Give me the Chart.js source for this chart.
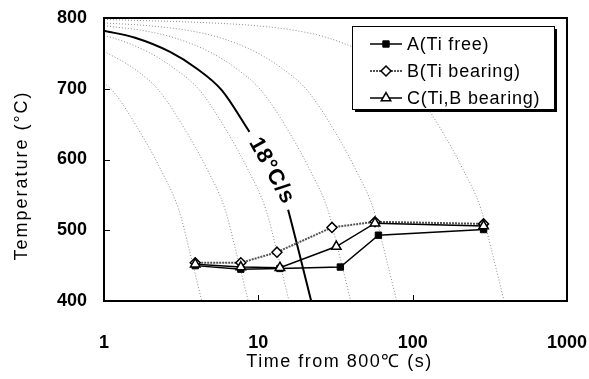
<!DOCTYPE html>
<html>
<head>
<meta charset="utf-8">
<script src="https://cdn.jsdelivr.net/npm/chart.js@4.4.0/dist/chart.umd.min.js"></script>
<style>
  html, body { margin: 0; padding: 0; background: #fff; }
  #wrap { width: 589px; height: 379px; }
</style>
</head>
<body>
<div id="wrap"><canvas id="cctChart" width="589" height="379"></canvas></div>
<script>
// measured transformation points (time from 800C in s, temperature in C)
const timeA = [3.9, 7.7, 13.8, 34, 60, 288];
const tempA = [450, 445, 446, 448, 493, 501];
const timeB = [3.9, 7.7, 13.2, 30, 57, 288];
const tempB = [454, 454, 469, 504, 512, 509];
const timeC = [3.9, 7.7, 13.8, 32, 57, 288];
const tempC = [452, 448, 447, 477, 510, 506];

// background cooling curves (dotted)
const coolTime1 = [1, 1.13, 1.71, 2.34, 3.05, 3.59, 4.3];
const coolTemp1 = [708, 698, 639, 585, 529, 470, 400];
const coolTime2 = [1, 1.55, 2.26, 3.42, 4.69, 6.1, 7.17, 8.6];
const coolTemp2 = [753, 729, 698, 639, 585, 529, 470, 400];
const coolTime3 = [1, 1.14, 1.93, 2.84, 4.16, 6.29, 8.6, 11.2, 13.2, 15.8];
const coolTemp3 = [775, 772, 752, 729, 698, 639, 585, 529, 470, 400];
const coolTime4 = [1, 1.81, 2.86, 4.84, 7.15, 10.4, 15.8, 21.6, 28.2, 33.1, 39.7];
const coolTemp4 = [789, 782, 772, 752, 729, 698, 639, 585, 529, 470, 400];
const coolTime5 = [1, 1.97, 3.59, 5.67, 9.6, 14.2, 20.7, 31.4, 42.9, 55.9, 65.7, 78.8];
const coolTemp5 = [793, 789, 782, 772, 752, 729, 698, 639, 585, 529, 470, 400];
const coolTime6 = [1, 5, 9.8, 17.8, 28.2, 47.7, 70.4, 103, 156, 213, 278, 326, 391];
const coolTemp6 = [798, 793, 789, 782, 772, 752, 729, 698, 639, 585, 529, 470, 400];

// the 18C/s curve (solid), broken where the label sits
const rateTime = [1, 1.59, 2.68, 3.96, 5.79, 8.76, 12, 15.6, 18.3, 22];
const rateTemp = [782, 772, 752, 729, 698, 639, null, 529, 470, 400];
const rateLabel = "18°C/s";

const xTickValues = [1, 10, 100, 1000];
const yTickValues = [400, 500, 600, 700, 800];
const xTitle = "Time from 800℃ (s)";
const yTitle = "Temperature (°C)";

const FONT = "'Liberation Sans', Arial, sans-serif";

function pts(xs, ys) {
  return xs.map((x, i) => ({ x: x, y: ys[i] }));
}

const coolSets = [
  [coolTime1, coolTemp1], [coolTime2, coolTemp2], [coolTime3, coolTemp3],
  [coolTime4, coolTemp4], [coolTime5, coolTemp5], [coolTime6, coolTemp6]
].map(([t, T]) => ({
  label: "",
  data: pts(t, T),
  borderColor: "#8a8a8a",
  borderWidth: 1,
  borderDash: [1, 2],
  pointRadius: 0,
  cubicInterpolationMode: "monotone",
  order: 10
}));

const seriesSets = [
  {
    label: "A(Ti free)",
    data: pts(timeA, tempA),
    borderColor: "#000",
    borderWidth: 1.5,
    pointStyle: "rect",
    pointRadius: 4.5,
    pointBackgroundColor: "#000",
    pointBorderColor: "#000",
    pointBorderWidth: 1,
    order: 3
  },
  {
    label: "B(Ti bearing)",
    data: pts(timeB, tempB),
    borderColor: "#555",
    borderWidth: 2,
    borderDash: [2, 1],
    pointStyle: "rectRot",
    pointRadius: 5,
    pointBackgroundColor: "#fff",
    pointBorderColor: "#000",
    pointBorderWidth: 1.5,
    order: 2
  },
  {
    label: "C(Ti,B bearing)",
    data: pts(timeC, tempC),
    borderColor: "#000",
    borderWidth: 1.5,
    pointStyle: "triangle",
    pointRadius: 5.5,
    pointBackgroundColor: "#fff",
    pointBorderColor: "#000",
    pointBorderWidth: 1.5,
    order: 1
  }
];

const rateSet = {
  label: "",
  data: pts(rateTime, rateTemp),
  borderColor: "#000",
  borderWidth: 2,
  pointRadius: 0,
  spanGaps: false,
  cubicInterpolationMode: "monotone",
  order: 5
};

// frame, inner ticks, titles, rate label and the boxed legend
const decorPlugin = {
  id: "decor",
  afterDatasetsDraw(chart) {
    const ctx = chart.ctx;
    const a = chart.chartArea;
    const xs = chart.scales.x, ys = chart.scales.y;
    ctx.save();
    ctx.fillStyle = "#000";
    ctx.textAlign = "center";
    ctx.textBaseline = "middle";

    // rate label
    ctx.font = "bold 22px " + FONT;
    ctx.letterSpacing = "0.8px";
    ctx.translate(xs.getPixelForValue(12.2), ys.getPixelForValue(584));
    ctx.rotate(61 * Math.PI / 180);
    ctx.fillText(rateLabel, 0, 0);
    ctx.setTransform(1, 0, 0, 1, 0, 0);

    // axis titles
    ctx.font = "18px " + FONT;
    ctx.letterSpacing = "1.5px";
    ctx.fillText(xTitle, (a.left + a.right) / 2 + 4, 362);
    ctx.letterSpacing = "2px";
    ctx.translate(22, (a.top + a.bottom) / 2 + 16);
    ctx.rotate(-Math.PI / 2);
    ctx.fillText(yTitle, 0, 0);
    ctx.setTransform(1, 0, 0, 1, 0, 0);
    ctx.letterSpacing = "0px";

    // frame
    ctx.strokeStyle = "#000";
    ctx.lineWidth = 2;
    ctx.strokeRect(a.left, a.top, a.right - a.left, a.bottom - a.top);

    // inner ticks
    ctx.lineWidth = 1;
    ctx.beginPath();
    [10, 100].forEach(v => {
      const px = Math.round(xs.getPixelForValue(v)) + 0.5;
      ctx.moveTo(px, a.bottom);
      ctx.lineTo(px, a.bottom - 6);
    });
    [500, 600, 700].forEach(v => {
      const py = Math.round(ys.getPixelForValue(v)) + 0.5;
      ctx.moveTo(a.left, py);
      ctx.lineTo(a.left + 6, py);
    });
    ctx.stroke();

    // legend box
    const bw = 202, bh = 83;
    const bx = a.right - 215, by = a.top + 8;
    ctx.fillStyle = "#000";
    ctx.fillRect(bx + 3, by + 3, bw, bh);
    ctx.fillStyle = "#fff";
    ctx.fillRect(bx, by, bw, bh);
    ctx.strokeStyle = "#000";
    ctx.lineWidth = 1;
    ctx.strokeRect(bx + 0.5, by + 0.5, bw, bh);

    seriesSets.forEach((s, i) => {
      const ry = by + 18 + i * 27;
      ctx.save();
      ctx.strokeStyle = s.borderColor;
      ctx.lineWidth = s.borderWidth;
      ctx.setLineDash(s.borderDash || []);
      ctx.beginPath();
      ctx.moveTo(bx + 18, ry);
      ctx.lineTo(bx + 50, ry);
      ctx.stroke();
      ctx.setLineDash([]);
      ctx.fillStyle = s.pointBackgroundColor;
      ctx.strokeStyle = s.pointBorderColor;
      ctx.lineWidth = s.pointBorderWidth;
      Chart.helpers.drawPoint(ctx, {
        pointStyle: s.pointStyle,
        radius: s.pointRadius,
        rotation: 0,
        borderWidth: s.pointBorderWidth
      }, bx + 34, ry);
      ctx.restore();
      ctx.fillStyle = "#000";
      ctx.font = "18px " + FONT;
      ctx.letterSpacing = "0.8px";
      ctx.textAlign = "left";
      ctx.textBaseline = "middle";
      ctx.fillText(s.label, bx + 55, ry + 1);
    });

    ctx.restore();
  }
};

const ctx = document.getElementById("cctChart").getContext("2d");
const cctChart = new Chart(ctx, {
  type: "line",
  data: { datasets: seriesSets.concat([rateSet], coolSets) },
  options: {
    responsive: false,
    animation: false,
    devicePixelRatio: 1,
    layout: { padding: { left: 0, right: 22, top: 18, bottom: 0 } },
    plugins: { legend: { display: false }, tooltip: { enabled: false } },
    scales: {
      x: {
        type: "logarithmic",
        min: 1,
        max: 1000,
        afterBuildTicks: s => { s.ticks = xTickValues.map(v => ({ value: v })); },
        afterFit: s => {
          s.height = 78;
          s.paddingLeft = 0;
          s.paddingRight = 0;
        },
        grid: { display: false, drawTicks: false },
        border: { display: false },
        ticks: {
          color: "#000",
          font: { family: FONT, size: 18, weight: "bold" },
          padding: 31,
          maxRotation: 0,
          autoSkip: false,
          callback: v => String(v)
        },
        title: { display: false }
      },
      y: {
        min: 400,
        max: 800,
        afterBuildTicks: s => { s.ticks = yTickValues.map(v => ({ value: v })); },
        afterFit: s => {
          s.width = 104;
          s.paddingTop = 0;
          s.paddingBottom = 0;
        },
        grid: { display: false, drawTicks: false },
        border: { display: false },
        ticks: {
          color: "#000",
          font: { family: FONT, size: 18, weight: "bold" },
          padding: 17
        },
        title: { display: false }
      }
    }
  },
  plugins: [decorPlugin]
});
</script>
</body>
</html>
